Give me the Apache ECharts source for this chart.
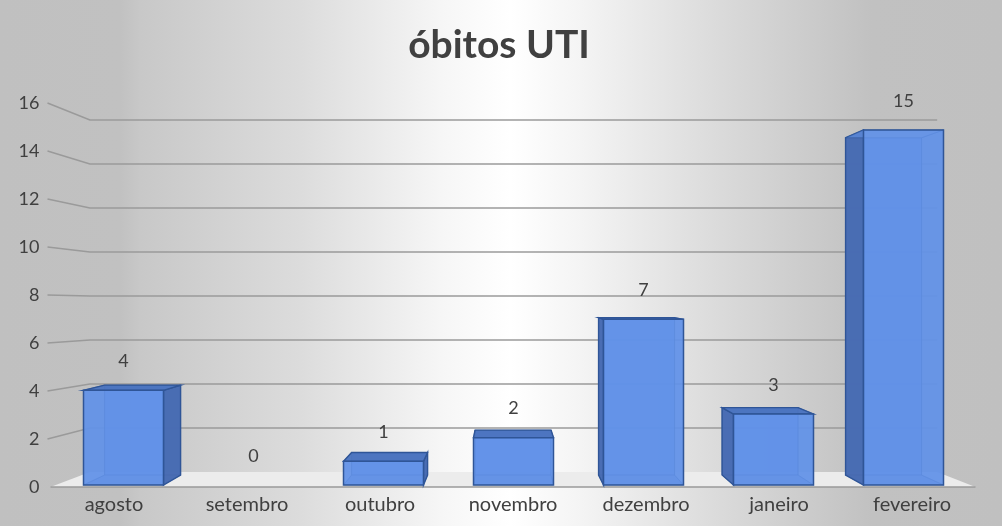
<!DOCTYPE html>
<html><head><meta charset="utf-8">
<style>html,body{margin:0;padding:0;background:#fff}#c{width:1002px;height:526px}</style>
<script src="https://cdn.jsdelivr.net/npm/echarts@6/dist/echarts.min.js"></script>
</head><body><div id="c"></div>
<script>
var categories = ['agosto','setembro','outubro','novembro','dezembro','janeiro','fevereiro'];
var obitos = [4,0,1,2,7,3,15];
var wallTicks = [0,2,4,6,8,10,12,14,16];
var titleText = 'óbitos UTI';

function wallPt(x,y){return [519+0.91*(x-519),307+0.9167*(y-307)];}
function barPt(x,y){var s=0.95,vx=505,vy=286;return [vx+s*(x-vx),vy+s*(y-vy)];}

var chart = echarts.init(document.getElementById('c'),null,{renderer:'canvas'});
var LINE='#9a9a9a';
chart.setOption({
  animation:false,
  backgroundColor:new echarts.graphic.LinearGradient(0,0,1,0,[
    {offset:0,color:'#c0c0c0'},{offset:0.12,color:'#c1c1c1'},{offset:0.14,color:'#c8c8c8'},
    {offset:0.3,color:'#dcdcdc'},{offset:0.44,color:'#f6f6f6'},{offset:0.51,color:'#ffffff'},
    {offset:0.58,color:'#f4f4f4'},{offset:0.72,color:'#dadada'},{offset:0.87,color:'#c1c1c1'},{offset:1,color:'#c0c0c0'}]),
  title:{text:titleText,left:494,top:21,textAlign:'center',
    textStyle:{fontFamily:'Lato',fontWeight:'bold',fontSize:39,color:'#404040'}},
  grid:[
    {left:47.5,right:23.5,top:103,bottom:39},
    {left:58.5,right:33.5,top:106.3,bottom:41}
  ],
  xAxis:[
    {type:'category',gridIndex:0,data:categories,axisLine:{show:false},axisTick:{show:false},
      axisLabel:{margin:8,fontFamily:'Lato',fontSize:20,color:'#404040'}},
    {type:'category',gridIndex:1,data:categories,show:false}
  ],
  yAxis:[
    {type:'value',gridIndex:0,min:0,max:16,interval:2,axisLine:{show:false},axisTick:{show:false},splitLine:{show:false},
      axisLabel:{margin:8,fontFamily:'Lato',fontSize:18,color:'#404040'}},
    {type:'value',gridIndex:1,min:0,max:16,interval:2,show:false,splitLine:{show:false}}
  ],
  series:[
    {type:'custom',xAxisIndex:0,yAxisIndex:0,coordinateSystem:'cartesian2d',clip:false,z:1,
      data:wallTicks.map(function(v){return [0,v];}),silent:true,
      renderItem:function(params,api){
        var v=api.value(1), y=api.coord([0,v])[1], cs=params.coordSys;
        var x0=cs.x, x1=cs.x+cs.width;
        var a=wallPt(x0,y), b=wallPt(x1,y);
        var kids=[];
        if(v===0){
          kids.push({type:'polygon',shape:{points:[[x0+3,y],a,b,[x1-3,y]]},style:{fill:'#ececec'}});
          kids.push({type:'line',shape:{x1:x0+3,y1:y,x2:x1-3,y2:y},style:{stroke:LINE,lineWidth:1.5}});
        }else{
          kids.push({type:'polyline',shape:{points:[[x0,y],a,[b[0],a[1]]]},style:{stroke:LINE,lineWidth:1.6,fill:null}});
        }
        return {type:'group',children:kids};
      }},
    {type:'custom',xAxisIndex:1,yAxisIndex:1,coordinateSystem:'cartesian2d',clip:false,z:3,silent:true,
      data:obitos.map(function(v,i){return [i,v];}),
      renderItem:function(params,api){
        var i=api.value(0), v=api.value(1);
        var top=api.coord([i,v]), base=api.coord([i,0]);
        var w=80, xl=top[0]-w/2, xr=top[0]+w/2, yt=top[1], yb=base[1];
        var label={type:'text',style:{text:String(v),x:top[0],y:yt-29,align:'center',verticalAlign:'middle',
          fontFamily:'Lato',fontSize:18,fill:'#404040'}};
        if(v===0) return {type:'group',children:[label]};
        var bl=barPt(xl,yb), br=barPt(xr,yb), tl=barPt(xl,yt), tr=barPt(xr,yt);
        var EDGE='#2f5597';
        var kids=[];
        kids.push({type:'polygon',shape:{points:[tl,tr,br,bl]},style:{fill:'rgba(91,140,235,0.85)',stroke:'rgba(47,85,151,0.45)',lineWidth:1}});
        kids.push({type:'polygon',shape:{points:[[xl,yb],[xr,yb],br,bl]},style:{fill:'rgba(80,125,215,0.75)',stroke:'rgba(47,85,151,0.4)',lineWidth:1}});
        var leftFace={type:'polygon',shape:{points:[[xl,yt],tl,bl,[xl,yb]]}};
        var rightFace={type:'polygon',shape:{points:[[xr,yt],tr,br,[xr,yb]]}};
        var dark={fill:'rgba(70,105,175,0.92)',stroke:EDGE,lineWidth:1.4};
        var light={fill:'rgba(95,145,235,0.55)',stroke:'rgba(47,85,151,0.55)',lineWidth:1};
        leftFace.style=(tl[0]<xl)?dark:light;
        rightFace.style=(tr[0]>xr)?dark:light;
        kids.push(leftFace,rightFace);
        kids.push({type:'polygon',shape:{points:[[xl,yt],[xr,yt],tr,tl]},
          style:(tl[1]<yt)?{fill:'rgba(75,115,190,0.95)',stroke:EDGE,lineWidth:1.4}:{fill:'rgba(95,145,235,0.55)',stroke:'rgba(47,85,151,0.55)',lineWidth:1}});
        kids.push({type:'rect',shape:{x:xl,y:yt,width:w,height:yb-yt},style:{fill:'rgba(98,146,232,0.85)',stroke:EDGE,lineWidth:1.5}});
        kids.push(label);
        return {type:'group',children:kids};
      }}
  ]
});
</script></body></html>
